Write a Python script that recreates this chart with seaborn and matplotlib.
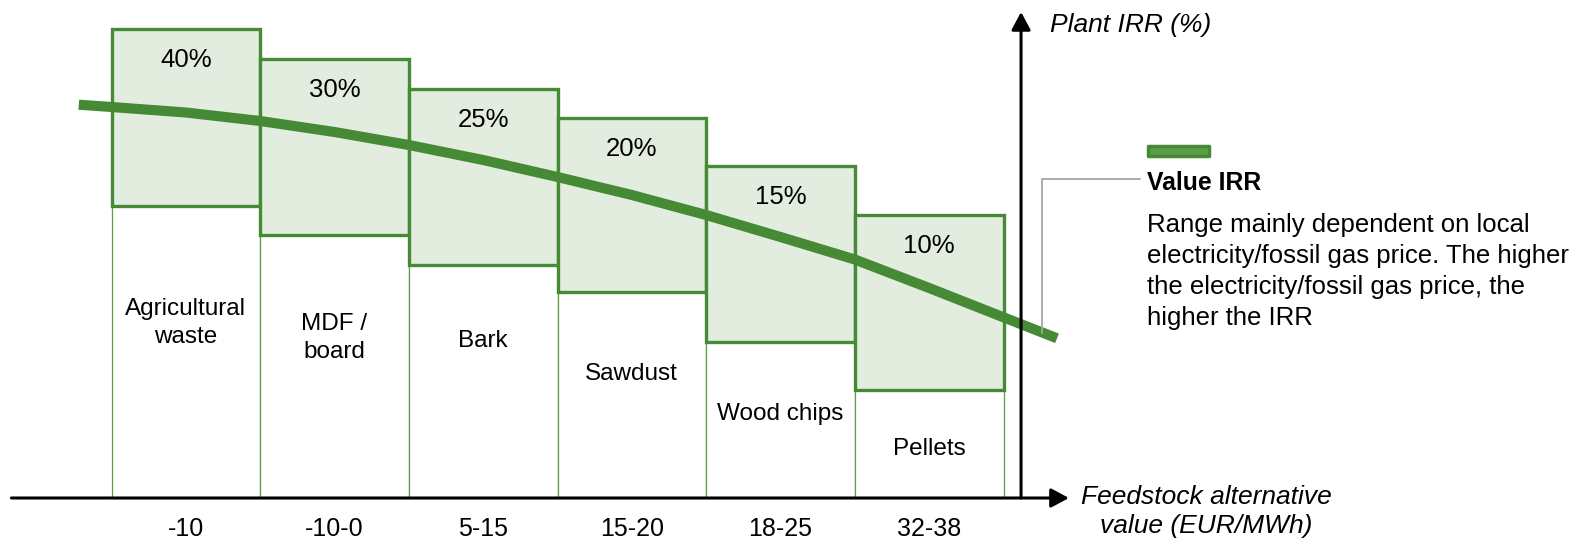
import numpy as np
import pandas as pd
import matplotlib
matplotlib.use("Agg")
import matplotlib.pyplot as plt
from matplotlib.patches import Rectangle
import seaborn as sns

# ---------- data ----------
feedstocks = ["Agricultural\nwaste", "MDF /\nboard", "Bark", "Sawdust", "Wood chips", "Pellets"]
alt_value = ["-10", "-10-0", "5-15", "15-20", "18-25", "32-38"]
irr_label = ["40%", "30%", "25%", "20%", "15%", "10%"]
box_top = [46.9, 43.9, 40.9, 38.0, 33.2, 28.3]       # upper edge of IRR range box
box_bottom = [29.2, 26.3, 23.3, 20.6, 15.6, 10.8]    # lower edge of IRR range box
# value-IRR curve (x in bar units: bar edges and bar centres)
curve_x = [-0.72, -0.5, 0.0, 0.5, 1.0, 1.5, 2.0, 2.5, 3.0, 3.5, 4.0, 4.5, 5.0, 5.5, 5.86]
curve_y = [39.33, 39.1, 38.55, 37.7, 36.6, 35.3, 33.8, 32.1, 30.3, 28.3,
           26.1, 23.85, 21.0, 18.07, 15.97]

note_title = "Value IRR"
note_body = ("Range mainly dependent on local\n"
             "electricity/fossil gas price. The higher\n"
             "the electricity/fossil gas price, the\n"
             "higher the IRR")

# ---------- layout ----------
name_y = [17.8, 16.25, 16.0, 12.7, 8.7, 5.2]   # centre of feedstock names
GREEN = "#468A35"
GREEN_THIN = "#5A9E46"
FILL = "#E2EDDF"
NUDGE = 0.26     # va=center sits a bit below the visual centre of caps

df = pd.DataFrame({"feedstock": feedstocks, "bottom": box_bottom, "top": box_top})
df["span"] = df["top"] - df["bottom"]

sns.set_theme(style="white")
plt.rcParams["font.family"] = ["Liberation Sans", "DejaVu Sans"]
plt.rcParams["text.color"] = "black"

fig = plt.figure(figsize=(15.9, 5.39), dpi=100)
ax = fig.add_axes([0, 0, 1, 1])

# white lower part of each bar, thin green outline
sns.barplot(data=df, x="feedstock", y="bottom", width=1, color="white", saturation=1,
            edgecolor=GREEN_THIN, linewidth=0.9, errorbar=None, ax=ax)
# light green IRR range box on top
sns.barplot(data=df, x="feedstock", y="span", bottom=df["bottom"].values, width=1,
            color=FILL, saturation=1, edgecolor=GREEN, linewidth=2.4,
            errorbar=None, ax=ax)

ax.set_xlim(-1.25, 9.445)
ax.set_ylim(-4.1, 49.8)
ax.axis("off")


def stacked(x, y, text, gap, **kw):
    lines = text.split("\n")
    y0 = y + gap * (len(lines) - 1) / 2
    for k, line in enumerate(lines):
        ax.text(x, y0 - k * gap - NUDGE, line, va="center", **kw)


for i, (name, val, pct, top) in enumerate(zip(feedstocks, alt_value, irr_label, box_top)):
    ax.text(i, top - 2.8 - NUDGE, pct, ha="center", va="center", fontsize=18.5)
    stacked(i, name_y[i], name, 2.8, ha="center", fontsize=17.5)
    ax.text(i, -1.95, val, ha="center", va="top", fontsize=18)

# axes with arrow heads
arrow = dict(arrowstyle="-|>,head_length=0.54,head_width=0.29", color="black",
             lw=2.2, shrinkA=0, shrinkB=0, mutation_scale=20)
ax.annotate("", xy=(5.94, 0), xytext=(-1.173, 0), arrowprops=arrow)
ax.annotate("", xy=(5.618, 48.6), xytext=(5.618, 0), arrowprops=arrow)

# value IRR curve
sns.lineplot(x=curve_x, y=curve_y, sort=False, color=GREEN, linewidth=7.3,
             solid_capstyle="butt", ax=ax)

ax.text(5.813, 47.6 - NUDGE, "Plant IRR (%)", ha="left", va="center",
        fontsize=19, style="italic")
stacked(6.862, -1.05, "Feedstock alternative\nvalue (EUR/MWh)", 2.9,
        ha="center", fontsize=19, style="italic")

# callout
ax.plot([5.759, 5.759, 6.418], [16.5, 31.9, 31.9], color="#A6A6A6", lw=1.3)
ax.add_patch(Rectangle((6.475, 34.25), 0.41, 0.95, facecolor="#5C9E47",
                       edgecolor=GREEN, lw=2.5, joinstyle="round"))
ax.text(6.465, 31.8 - NUDGE, note_title, ha="left", va="center",
        fontsize=17.8, fontweight="bold")
stacked(6.465, 27.6 - 3.1 * 1.5, note_body, 3.1, ha="left", fontsize=18.5)

fig.savefig("out.png", dpi=100)
